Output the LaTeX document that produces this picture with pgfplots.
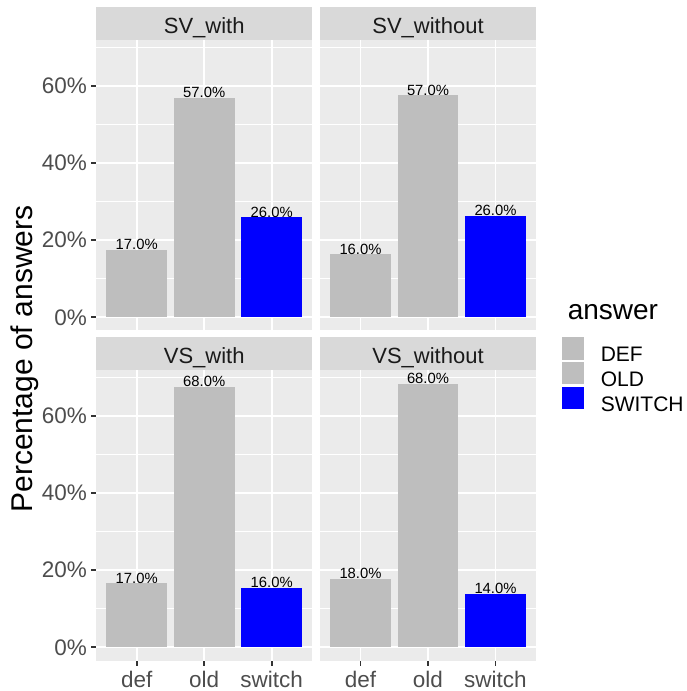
\documentclass[border=0pt]{standalone}
\usepackage{pgfplots}
\pgfplotsset{compat=1.18}
\usepackage{fontspec}
\setmainfont{Liberation Sans}
\definecolor{panelbg}{HTML}{EBEBEB}
\definecolor{stripbg}{HTML}{D9D9D9}
\definecolor{tickcol}{HTML}{333333}
\definecolor{ticklab}{HTML}{4D4D4D}
\definecolor{striptext}{HTML}{1A1A1A}
\definecolor{bargray}{HTML}{BEBEBE}
\definecolor{barblue}{HTML}{0000FF}

\pgfplotsset{
  facet/.style={
    scale only axis, width=108pt, height=145pt,
    xmin=0.4, xmax=3.6, ymin=-3.42, ymax=71.82,
    axis background/.style={fill=panelbg},
    axis line style={draw=none},
    grid=both,
    major grid style={white, line width=0.85pt},
    minor grid style={white, line width=0.43pt},
    xtick={1,2,3}, ytick={0,20,40,60}, minor ytick={10,30,50,70},
    minor tick length=0pt,
    tick align=outside, tick pos=left,
    major tick length=2.6pt,
    tick style={tickcol, line width=0.85pt},
    ticklabel style={font=\fontsize{11.25}{13}\selectfont, text=ticklab},
    xticklabel style={inner sep=2.3pt},
    yticklabel style={inner sep=1.8pt},
    /pgf/number format/assume math mode=true,
    xticklabels={}, yticklabels={},
    clip=false,
    nodes near coords={\fontsize{7.4}{8}\selectfont\pgfplotspointmeta},
    point meta=explicit symbolic,
  },
  xlab/.style={xticklabels={def,old,switch}},
  noxtick/.style={xtick style={draw=none}},
  ylab/.style={yticklabels={0\%,20\%,40\%,60\%}},
  noytick/.style={ytick style={draw=none}},
  mybar/.style={ybar, bar width=0.9, bar shift=0pt, draw=none,
    every node near coord/.append style={anchor=base, inner sep=0pt, text=black},
    legend image code/.code={\fill[##1, draw=none] (0pt,-1.9pt) rectangle (11.3pt,9.4pt); \path (19.65pt,0pt);}},
}
\newcommand\strip[1]{%
  \fill[stripbg] (rel axis cs:0,1) rectangle (rel axis cs:1,1.1152);
  \node[anchor=base, font=\fontsize{11}{13}\selectfont, text=striptext] at (rel axis cs:0.5,1.0255) {#1};
}

\begin{document}
\begin{tikzpicture}
\useasboundingbox (0,0) rectangle (343pt,345.5pt);

% SV_with
\begin{axis}[facet, ylab, noxtick, at={(48.1pt,180.25pt)}, anchor=south west]
\addplot[mybar, fill=bargray] coordinates {(1,17.5) [17.0\%]};
\addplot[mybar, fill=bargray] coordinates {(2,57.0) [57.0\%]};
\addplot[mybar, fill=barblue] coordinates {(3,25.9) [26.0\%]};
\strip{SV\_with}
\end{axis}

% SV_without
\begin{axis}[facet, noxtick, noytick, at={(160pt,180.25pt)}, anchor=south west]
\addplot[mybar, fill=bargray] coordinates {(1,16.4) [16.0\%]};
\addplot[mybar, fill=bargray] coordinates {(2,57.6) [57.0\%]};
\addplot[mybar, fill=barblue] coordinates {(3,26.4) [26.0\%]};
\strip{SV\_without}
\end{axis}

% VS_with
\begin{axis}[facet, ylab, xlab, at={(48.1pt,15.25pt)}, anchor=south west]
\addplot[mybar, fill=bargray] coordinates {(1,16.6) [17.0\%]};
\addplot[mybar, fill=bargray] coordinates {(2,67.6) [68.0\%]};
\addplot[mybar, fill=barblue] coordinates {(3,15.5) [16.0\%]};
\strip{VS\_with}
\end{axis}

% VS_without
\begin{axis}[facet, xlab, noytick, at={(160pt,15.25pt)}, anchor=south west,
  legend style={at={(1,1)}, anchor=north west, xshift=12.55pt, yshift=16.9pt,
    draw=none, fill=none, inner sep=0pt, row sep=-1.4pt,
    font=\fontsize{10.5}{12}\selectfont, nodes={inner sep=0pt}},
  legend cell align=left]
\addplot[mybar, fill=bargray] coordinates {(1,17.8) [18.0\%]};
\addlegendentry{DEF}
\addplot[mybar, fill=bargray] coordinates {(2,68.4) [68.0\%]};
\addlegendentry{OLD}
\addplot[mybar, fill=barblue] coordinates {(3,13.9) [14.0\%]};
\addlegendentry{SWITCH}
\strip{VS\_without}
\end{axis}

\node[rotate=90, anchor=base, font=\fontsize{15}{18}\selectfont] at (16.5pt,166pt) {Percentage of answers};
\node[anchor=base west, font=\fontsize{14}{17}\selectfont] at (280.35pt,185.5pt) {answer};
\end{tikzpicture}
\end{document}
